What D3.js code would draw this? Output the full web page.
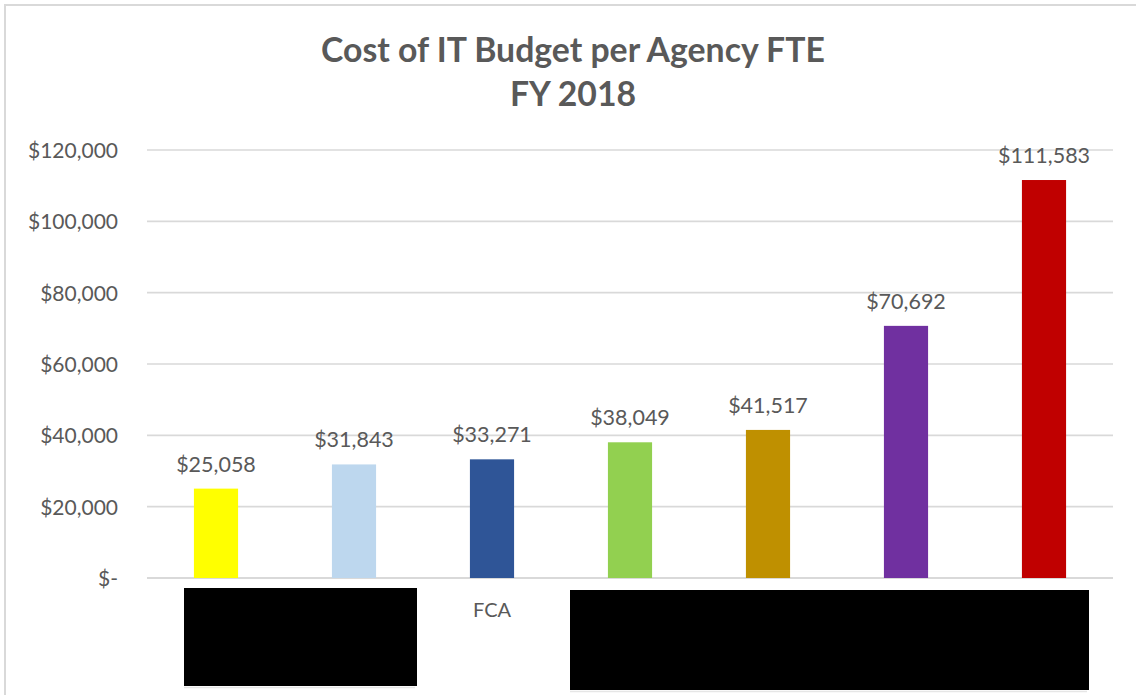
<!DOCTYPE html>
<html>
<head>
<meta charset="utf-8">
<script src="https://cdn.jsdelivr.net/npm/d3@7"></script>
<style>
  html, body { margin: 0; padding: 0; background: #ffffff; }
  svg { display: block; }
</style>
</head>
<body>
<svg id="chart" width="1136" height="695"></svg>
<script>
// ---- data ----
const categories = ["Agency 1", "Agency 2", "FCA", "Agency 4", "Agency 5", "Agency 6", "Agency 7"];
const values = [25058, 31843, 33271, 38049, 41517, 70692, 111583];
const colors = ["#FFFF00", "#BDD7EE", "#2F5597", "#92D050", "#BF9000", "#7030A0", "#C00000"];
const yTicks = [0, 20000, 40000, 60000, 80000, 100000, 120000];
const titleLines = ["Cost of IT Budget per Agency FTE", "FY 2018"];
const redactedGroups = [["Agency 1", "Agency 2"], ["Agency 4", "Agency 5", "Agency 6", "Agency 7"]];

// ---- layout ----
const svg = d3.select("#chart");
const textColor = "#595959";
const gridColor = "#D9D9D9";
const font = "Lato, 'Open Sans', sans-serif";
const redacted = new Set(redactedGroups.flat());

// chart border
svg.append("rect").attr("x", 5).attr("y", 5).attr("width", 1200).attr("height", 800)
  .attr("fill", "#fff").attr("stroke", "#D9D9D9").attr("stroke-width", 2);

const x = d3.scaleBand().domain(categories).range([147, 1113]).paddingInner(0.68).paddingOuter(0.34);
const y = d3.scaleLinear().domain([0, 120000]).range([578, 150]);

// gridlines
svg.append("g").selectAll("line").data(yTicks).join("line")
  .attr("x1", 147).attr("x2", 1113)
  .attr("y1", d => y(d)).attr("y2", d => y(d))
  .attr("stroke", gridColor).attr("stroke-width", d => d === 0 ? 2 : 1.6);

// y axis labels
const fmt = d3.format(",");
const yAxis = d3.axisLeft(y).tickValues(yTicks).tickSize(0).tickPadding(0)
  .tickFormat(d => d === 0 ? "$-" : "$" + fmt(d));
const yg = svg.append("g").attr("transform", "translate(118,0)").call(yAxis);
yg.select(".domain").remove();
yg.selectAll("text").attr("font-family", font).attr("font-size", 21)
  .attr("fill", textColor).attr("dy", "0.35em");

// bars
svg.append("g").selectAll("rect").data(values).join("rect")
  .attr("x", (d, i) => x(categories[i]))
  .attr("width", x.bandwidth())
  .attr("y", d => y(d))
  .attr("height", d => y(0) - y(d))
  .attr("fill", (d, i) => colors[i]);

// value labels
svg.append("g").selectAll("text").data(values).join("text")
  .attr("x", (d, i) => x(categories[i]) + x.bandwidth() / 2)
  .attr("y", d => y(d) - 17)
  .attr("text-anchor", "middle")
  .attr("font-family", font).attr("font-size", 21.5).attr("fill", textColor)
  .text(d => "$" + fmt(d));

// x axis labels (redacted ones are covered by black boxes)
const xAxis = d3.axisBottom(x).tickSize(0).tickPadding(0)
  .tickFormat(d => redacted.has(d) ? "" : d);
const xg = svg.append("g").attr("transform", "translate(0,603)").call(xAxis);
xg.select(".domain").remove();
xg.selectAll("text").attr("font-family", font).attr("font-size", 20)
  .attr("fill", textColor).attr("dy", "0.71em");

// redaction boxes over hidden category labels
const boxes = [
  { x0: 184, x1: 417, y0: 588, y1: 686 },
  { x0: 570, x1: 1089, y0: 590, y1: 690 }
];
redactedGroups.forEach((g, i) => {
  const b = boxes[i];
  svg.append("line").attr("x1", b.x0).attr("x2", b.x1 - 2)
    .attr("y1", b.y1 + 1.5).attr("y2", b.y1 + 1.5)
    .attr("stroke", "#E6E6E6").attr("stroke-width", 1.5);
  svg.append("rect").attr("x", b.x0).attr("y", b.y0)
    .attr("width", b.x1 - b.x0).attr("height", b.y1 - b.y0).attr("fill", "#000");
});

// title
const title = svg.append("g");
const t1 = title.append("text").attr("x", 573).attr("y", 62).attr("text-anchor", "middle")
  .attr("font-family", font).attr("font-weight", "bold").attr("font-size", 30)
  .attr("fill", textColor).text(titleLines[0]);
const w = t1.node().getComputedTextLength();
const fs = 30 * 504 / w;
t1.attr("font-size", fs);
title.append("text").attr("x", 573).attr("y", 106).attr("text-anchor", "middle")
  .attr("font-family", font).attr("font-weight", "bold").attr("font-size", fs)
  .attr("fill", textColor).text(titleLines[1]);
</script>
</body>
</html>
